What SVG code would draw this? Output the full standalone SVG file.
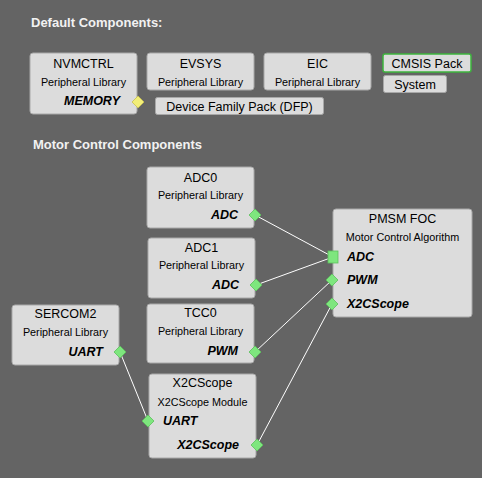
<svg xmlns="http://www.w3.org/2000/svg" width="482" height="478" viewBox="0 0 482 478">
<style>
.bg{fill:#646464}
.box{fill:#dcdcdc;stroke:#a8a8a8;stroke-width:1}
.t{font-family:"Liberation Sans",Arial,sans-serif;font-size:12.5px;fill:#000;text-anchor:middle}
.s{font-family:"Liberation Sans",Arial,sans-serif;font-size:10.8px;fill:#000;text-anchor:middle}
.p{font-family:"Liberation Sans",Arial,sans-serif;font-size:12.5px;font-weight:bold;font-style:italic;fill:#000}
.r{text-anchor:end}
.h{font-family:"Liberation Sans",Arial,sans-serif;font-size:13px;font-weight:bold;fill:#f2f2f2}
.g{fill:#7ee67e;stroke:#5cc05c;stroke-width:0.8}
.y{fill:#f2ee78;stroke:#c8c050;stroke-width:0.8}
.c{stroke:#ffffff;stroke-width:1;fill:none}
</style>
<rect class="bg" x="0" y="0" width="482" height="478"/>
<text class="h" x="31" y="27">Default Components:</text>
<text class="h" x="33" y="149">Motor Control Components</text>

<g id="connectors">
<line class="c" x1="255" y1="215" x2="333" y2="257"/>
<line class="c" x1="256" y1="285" x2="333" y2="257"/>
<line class="c" x1="255" y1="352" x2="332" y2="280"/>
<line class="c" x1="257" y1="445" x2="332" y2="304"/>
<line class="c" x1="120" y1="352" x2="148" y2="421"/>
</g>

<g id="nvmctrl">
<rect class="box" x="30" y="53" width="107" height="61" rx="3"/>
<text class="t" x="83.5" y="68">NVMCTRL</text>
<text class="s" x="83.5" y="86">Peripheral Library</text>
<text class="p r" x="120" y="105">MEMORY</text>
<polygon class="y" points="138,96 144,102 138,108 132,102"/>
</g>
<g id="evsys">
<rect class="box" x="147" y="53" width="107" height="37" rx="3"/>
<text class="t" x="200.5" y="68">EVSYS</text>
<text class="s" x="200.5" y="86">Peripheral Library</text>
</g>
<g id="eic">
<rect class="box" x="264" y="53" width="107" height="37" rx="3"/>
<text class="t" x="317.5" y="68">EIC</text>
<text class="s" x="317.5" y="86">Peripheral Library</text>
</g>
<g id="cmsis">
<rect x="383" y="54" width="88" height="18" rx="2" fill="#dcdcdc" stroke="#3cb43c" stroke-width="1.5"/>
<text class="t" x="427" y="68">CMSIS Pack</text>
</g>
<g id="system">
<rect class="box" x="383.5" y="75.5" width="63" height="17" rx="2"/>
<text class="t" x="415" y="89">System</text>
</g>
<g id="dfp">
<rect class="box" x="155.5" y="97.5" width="168" height="17" rx="2"/>
<text class="t" x="239.5" y="111">Device Family Pack (DFP)</text>
</g>

<g id="adc0">
<rect class="box" x="147" y="167" width="107" height="61" rx="3"/>
<text class="t" x="200.5" y="182">ADC0</text>
<text class="s" x="200.5" y="199">Peripheral Library</text>
<text class="p r" x="238" y="219">ADC</text>
<polygon class="g" points="255,209 261,215 255,221 249,215"/>
</g>
<g id="adc1">
<rect class="box" x="148" y="238" width="107" height="60" rx="3"/>
<text class="t" x="201.5" y="252">ADC1</text>
<text class="s" x="201.5" y="269">Peripheral Library</text>
<text class="p r" x="239" y="289">ADC</text>
<polygon class="g" points="256,279 262,285 256,291 250,285"/>
</g>
<g id="pmsm">
<rect class="box" x="333" y="209" width="139" height="108" rx="3"/>
<text class="t" x="402.5" y="223">PMSM FOC</text>
<text class="s" x="402.5" y="241">Motor Control Algorithm</text>
<text class="p" x="347" y="261">ADC</text>
<text class="p" x="347" y="284">PWM</text>
<text class="p" x="347" y="308">X2CScope</text>
<rect class="g" x="328" y="251" width="10" height="12"/>
<polygon class="g" points="332,274 338,280 332,286 326,280"/>
<polygon class="g" points="332,298 338,304 332,310 326,304"/>
</g>
<g id="sercom2">
<rect class="box" x="12" y="305" width="107" height="60" rx="3"/>
<text class="t" x="65.5" y="318">SERCOM2</text>
<text class="s" x="65.5" y="336">Peripheral Library</text>
<text class="p r" x="103" y="356">UART</text>
<polygon class="g" points="120,346 126,352 120,358 114,352"/>
</g>
<g id="tcc0">
<rect class="box" x="147" y="304" width="107" height="59" rx="3"/>
<text class="t" x="200.5" y="317">TCC0</text>
<text class="s" x="200.5" y="335">Peripheral Library</text>
<text class="p r" x="238" y="355">PWM</text>
<polygon class="g" points="255,346 261,352 255,358 249,352"/>
</g>
<g id="x2cscope">
<rect class="box" x="149" y="374" width="107" height="84" rx="3"/>
<text class="t" x="202.5" y="387">X2CScope</text>
<text class="s" x="202.5" y="406">X2CScope Module</text>
<text class="p" x="163" y="425">UART</text>
<text class="p r" x="239" y="449">X2CScope</text>
<polygon class="g" points="148,415 154,421 148,427 142,421"/>
<polygon class="g" points="257,439 263,445 257,451 251,445"/>
</g>
</svg>
